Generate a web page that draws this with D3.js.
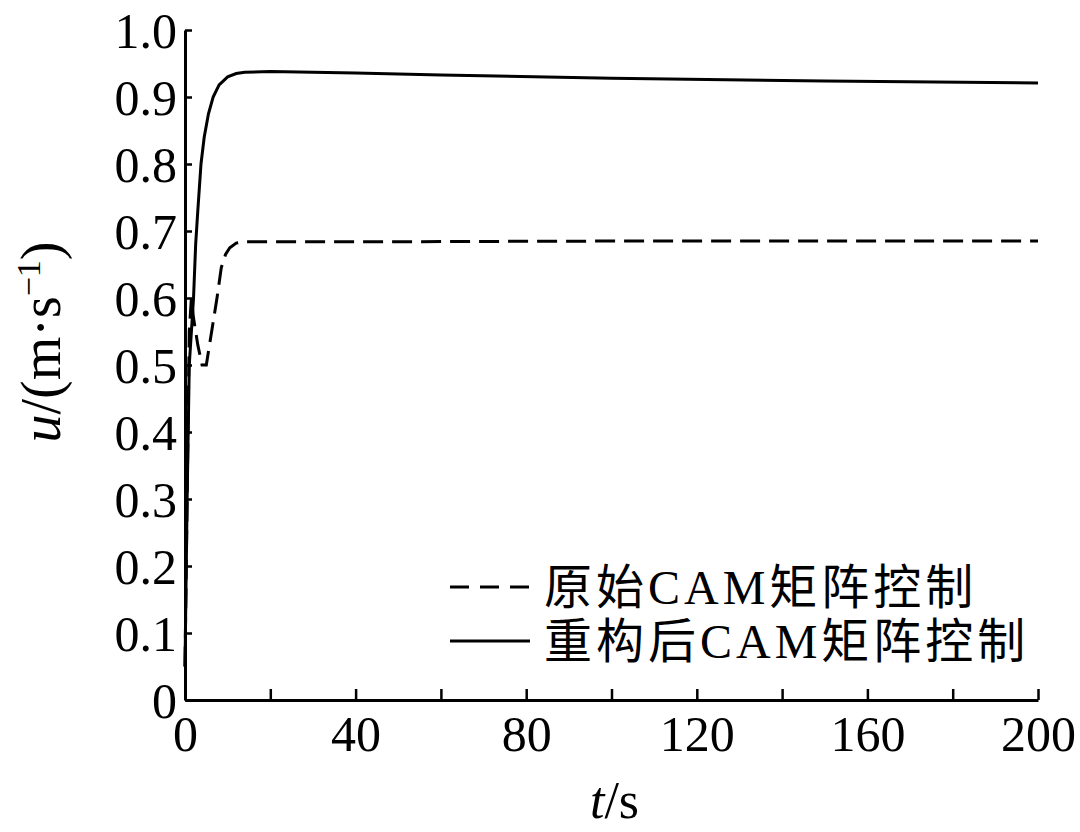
<!DOCTYPE html>
<html>
<head>
<meta charset="utf-8">
<script src="https://cdn.jsdelivr.net/npm/d3@7"></script>
<style>
  body { margin: 0; background: #fff; }
  svg text { font-family: "Liberation Serif", "Noto Sans CJK SC", serif; fill: #000; }
</style>
</head>
<body>
<div id="chart"></div>
<script>
// original CAM matrix (dashed)
const tOrig = [0, 0.5, 1, 1.5, 2, 3, 4, 5, 5.5, 6.5, 7.5, 8.5, 9.5, 10.5, 12, 14, 50, 100, 150, 200]
const uOrig = [0.05, 0.3, 0.55, 0.6, 0.57, 0.53, 0.5, 0.5, 0.52, 0.56, 0.6, 0.645, 0.665, 0.675, 0.682, 0.684, 0.684, 0.685, 0.685, 0.685]
// reconstructed CAM matrix (solid)
const tNew = [0, 0.5, 1, 1.5, 2, 2.5, 3, 3.75, 4.5, 5.5, 6.6, 8, 10, 12, 14, 20, 40, 60, 100, 150, 200]
const uNew = [0.05, 0.3, 0.5, 0.55, 0.6, 0.68, 0.73, 0.8, 0.84, 0.875, 0.9, 0.918, 0.93, 0.935, 0.937, 0.938, 0.936, 0.933, 0.928, 0.924, 0.921]

const xTicks = [0, 40, 80, 120, 160, 200]
const xMinor = [20, 60, 100, 140, 180]
const yTicks = [0, 0.1, 0.2, 0.3, 0.4, 0.5, 0.6, 0.7, 0.8, 0.9, 1.0]
const legendNames = ["原始CAM矩阵控制", "重构后CAM矩阵控制"]

const W = 1080, H = 832
const margin = {top: 30, right: 42, bottom: 132, left: 185}
const width = W - margin.left - margin.right,
      height = H - margin.top - margin.bottom

let svg = d3.select("#chart").append("svg")
    .attr("width", W).attr("height", H)
  .append("g")
    .attr("transform", "translate(" + margin.left + "," + margin.top + ")")

let x = d3.scaleLinear().domain([0, 200]).range([0, width])
let y = d3.scaleLinear().domain([0, 1]).range([height, 0])

// axes, ticks pointing inward
let xAxis = svg.append("g")
    .attr("transform", `translate(0, ${height})`)
    .call(d3.axisBottom(x).tickValues(xTicks.concat(xMinor)).tickSizeInner(-11).tickSizeOuter(0)
        .tickFormat(d => xTicks.includes(d) ? d : ""))
xAxis.select(".domain").attr("stroke-width", 3)
xAxis.selectAll(".tick line").attr("stroke-width", 2.5)
xAxis.selectAll("text").attr("font-size", 50).attr("dy", "0.95em")

let yAxis = svg.append("g")
    .call(d3.axisLeft(y).tickValues(yTicks).tickSizeInner(-7).tickSizeOuter(0)
        .tickFormat(d => d === 0 ? "0" : d3.format(".1f")(d)))
yAxis.select(".domain").attr("stroke-width", 3)
yAxis.selectAll(".tick line").attr("stroke-width", 2.5)
yAxis.selectAll("text").attr("font-size", 50).attr("x", -8).attr("dy", "0.34em")

// lines
let line = d3.line().x(d => x(d[0])).y(d => y(d[1]))
svg.append("path")
    .datum(d3.zip(tOrig, uOrig))
    .attr("d", line)
    .attr("fill", "none").attr("stroke", "#000").attr("stroke-width", 3)
    .attr("stroke-dasharray", "20,9")
svg.append("path")
    .datum(d3.zip(tNew, uNew))
    .attr("d", line)
    .attr("fill", "none").attr("stroke", "#000").attr("stroke-width", 3)

// legend
let leg = svg.append("g").attr("transform", "translate(265, 557)")
legendNames.forEach((name, i) => {
    let g = leg.append("g").attr("transform", `translate(0, ${i * 54})`)
    g.append("line").attr("x1", 0).attr("x2", 80).attr("y1", 0).attr("y2", 0)
        .attr("stroke", "#000").attr("stroke-width", 3)
        .attr("stroke-dasharray", i === 0 ? "19,11" : null)
    g.append("text").attr("x", 94).attr("y", 0).attr("dy", "0.36em")
        .attr("font-size", 48).attr("letter-spacing", 4).text(name)
})

// axis titles
svg.append("text")
    .attr("x", width / 2 + 3).attr("y", height + 118)
    .attr("text-anchor", "middle").attr("font-size", 52)
    .html('<tspan font-style="italic">t</tspan>/s')

svg.append("text")
    .attr("transform", `translate(-125, 312) rotate(-90)`)
    .attr("text-anchor", "middle").attr("font-size", 56)
    .html('<tspan font-style="italic">u</tspan>/(m·s<tspan dy="-20" font-size="34">−1</tspan><tspan dy="20">)</tspan>')
</script>
</body>
</html>
